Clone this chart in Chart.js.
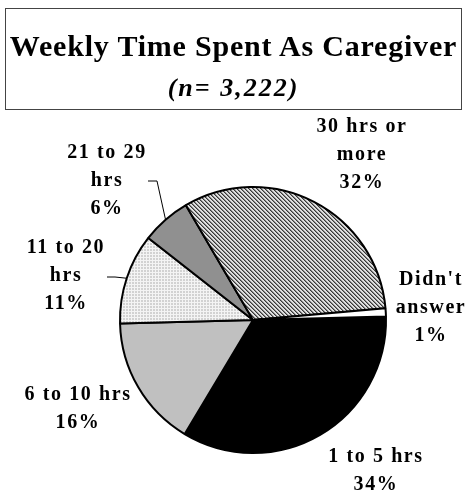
<!DOCTYPE html>
<html>
<head>
<meta charset="utf-8">
<script src="https://cdn.jsdelivr.net/npm/chart.js@4/dist/chart.umd.min.js"></script>
<style>
  body { margin: 0; background: #fff; }
  #wrap { position: relative; width: 466px; height: 491px; }
  #titleBox {
    position: absolute; left: 5px; top: 8px; width: 457px; height: 102px;
    border: 1px solid #444; box-sizing: border-box; text-align: center;
    font-family: "Liberation Serif", "Times New Roman", serif; font-weight: bold; color: #000;
  }
  #t1 { position: absolute; left: -10px; right: -10px; top: 21px; font-size: 30px; line-height: 32px; letter-spacing: 0.8px; white-space: nowrap; }
  #t2 { position: absolute; left: 0; right: 0; top: 65px; font-size: 26px; line-height: 28px; font-style: italic; letter-spacing: 2px; }
</style>
</head>
<body>
<div id="wrap">
  <canvas id="myChart" width="466" height="491"></canvas>
  <div id="titleBox">
    <div id="t1">Weekly Time Spent As Caregiver</div>
    <div id="t2">(n= 3,222)</div>
  </div>
</div>
<script>
// categories in drawing order (clockwise from the right)
var categories = ["1 to 5 hrs", "6 to 10 hrs", "11 to 20 hrs", "21 to 29 hrs", "30 hrs or more", "Didn't answer"];
var percents = [34, 16, 11, 6, 32, 1];
// label lines as shown on the chart
var labelLines = [
    ["1 to 5 hrs", "34%"],
    ["6 to 10 hrs", "16%"],
    ["11 to 20", "hrs", "11%"],
    ["21 to 29", "hrs", "6%"],
    ["30 hrs or", "more", "32%"],
    ["Didn't", "answer", "1%"]
];

// small fill patterns
function makePattern(size, bg, draw) {
    var c = document.createElement('canvas');
    c.width = size; c.height = size;
    var g = c.getContext('2d');
    g.fillStyle = bg;
    g.fillRect(0, 0, size, size);
    draw(g);
    return document.getElementById('myChart').getContext('2d').createPattern(c, 'repeat');
}
var hatch = makePattern(4, '#e0e0e0', function(g){
    for (var i = 0; i < 4; i++) {
        g.fillStyle = '#383838'; g.fillRect(i, i, 1, 1);
        g.fillStyle = '#888888'; g.fillRect((i + 1) % 4, i, 1, 1);
    }
});
var dots = makePattern(3, '#f4f4f4', function(g){
    g.fillStyle = '#d2d2d2'; g.fillRect(0, 0, 2, 2);
});

// label placement relative to pie centre (px), first line
var labelPos = [[122, 137], [-176, 75], [-188, -72], [-147, -167], [108, -193], [177, -40]];
// leader lines: start point relative to centre, then a short horizontal run
var leaders = {2: [[-146, -43], [-138, -43]], 3: [[-105, -139], [-96, -139]]};

var pieLabels = {
    id: 'pieLabels',
    afterDatasetsDraw: function(chart) {
        var ctx = chart.ctx;
        var arcs = chart.getDatasetMeta(0).data;
        var cx = arcs[0].x, cy = arcs[0].y;
        ctx.save();
        ctx.font = 'bold 20px "Liberation Serif", "Times New Roman", serif';
        ctx.letterSpacing = '1.6px';
        ctx.fillStyle = '#000';
        ctx.textAlign = 'center';
        ctx.textBaseline = 'middle';
        for (var i = 0; i < arcs.length; i++) {
            var lines = labelLines[i];
            var lx = cx + labelPos[i][0], ly = cy + labelPos[i][1];
            for (var j = 0; j < lines.length; j++) {
                ctx.fillText(lines[j], lx + 1, ly + j * 28);
            }
            if (leaders[i]) {
                var a = arcs[i];
                var mid = (a.startAngle + a.endAngle) / 2;
                ctx.beginPath();
                ctx.lineWidth = 1;
                ctx.strokeStyle = '#000';
                ctx.moveTo(cx + leaders[i][0][0], cy + leaders[i][0][1]);
                ctx.lineTo(cx + leaders[i][1][0], cy + leaders[i][1][1]);
                ctx.lineTo(cx + Math.cos(mid) * a.outerRadius, cy + Math.sin(mid) * a.outerRadius);
                ctx.stroke();
            }
        }
        ctx.restore();
    }
};

var ctx = document.getElementById('myChart').getContext('2d');
var chart = new Chart(ctx, {
    type: 'pie',
    data: {
        labels: categories,
        datasets: [{
            data: percents,
            backgroundColor: ['#000000', '#c0c0c0', dots, '#909090', hatch, '#ffffff'],
            borderColor: '#000',
            borderWidth: 2
        }]
    },
    options: {
        responsive: false,
        animation: false,
        rotation: 88.5,
        radius: 133,
        layout: { padding: { top: 175, bottom: 26, left: 60, right: 20 } },
        plugins: {
            legend: { display: false },
            tooltip: { enabled: false }
        }
    },
    plugins: [pieLabels]
});
</script>
</body>
</html>
